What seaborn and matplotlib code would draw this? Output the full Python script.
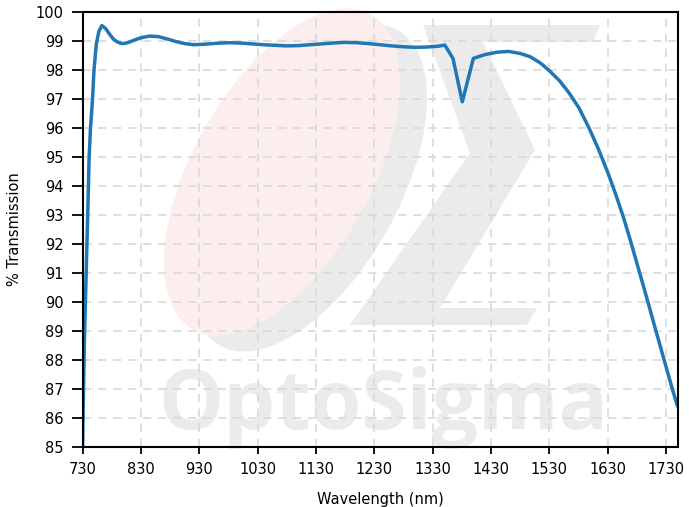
import numpy as np
import pandas as pd
import matplotlib
matplotlib.use("Agg")
import matplotlib.pyplot as plt
from matplotlib.patches import Ellipse, Polygon
from matplotlib.transforms import IdentityTransform
import seaborn as sns

# ---- data ----
wavelength = [730, 731, 733, 736, 739, 741, 743.5, 747, 749.5, 753.5, 758, 763, 769,
              776, 783, 790, 797, 803, 810, 820, 830, 845, 860, 875, 890, 905, 920,
              940, 960, 980, 1000, 1020, 1040, 1060, 1080, 1100, 1120, 1140, 1160,
              1180, 1200, 1220, 1240, 1260, 1280, 1300, 1320, 1340, 1351, 1365, 1381,
              1400, 1420, 1440, 1460, 1480, 1497, 1515, 1531, 1548, 1564, 1581, 1598,
              1615, 1631, 1645, 1657, 1669, 1684, 1699, 1713, 1727, 1741, 1750]
transmission = [85.0, 86.3, 88.6, 90.9, 93.2, 94.9, 96.0, 97.0, 98.0, 98.9, 99.35, 99.54,
                99.45, 99.25, 99.07, 98.97, 98.92, 98.93, 98.97, 99.05, 99.12, 99.18,
                99.16, 99.08, 98.99, 98.92, 98.88, 98.9, 98.93, 98.95, 98.94, 98.91, 98.88,
                98.86, 98.84, 98.85, 98.88, 98.91, 98.94, 98.96, 98.95, 98.92, 98.88, 98.84,
                98.81, 98.79, 98.8, 98.83, 98.87, 98.41, 96.91, 98.41, 98.54, 98.62, 98.65,
                98.58, 98.47, 98.25, 97.97, 97.63, 97.22, 96.7, 96.02, 95.25, 94.44, 93.66,
                92.94, 92.14, 91.08, 90.02, 89.0, 88.0, 87.0, 86.4]
x_ticks = list(range(730, 1731, 100))
y_ticks = list(range(85, 101, 1))
x_label = "Wavelength (nm)"
y_label = "% Transmission"
watermark_text = "OptoSigma"

df = pd.DataFrame({"Wavelength": wavelength, "Transmission": transmission})

sns.set_style("ticks")
plt.rcParams["font.family"] = ["DejaVu Sans"]
plt.rcParams["text.color"] = "black"
plt.rcParams["axes.labelcolor"] = "black"
plt.rcParams["xtick.color"] = "black"
plt.rcParams["ytick.color"] = "black"

W, H = 689, 507
fig = plt.figure(figsize=(W / 100, H / 100), dpi=100)
ax = fig.add_axes([82.6 / W, 1 - 446.7 / H, (677.5 - 82.6) / W, (446.7 - 12.3) / H])

# ---- watermark (display pixel coords, y measured from top) ----
def P(px, py):
    return (px, H - py)

tr = IdentityTransform()
shadow = Ellipse(P(309, 188), 2 * 181, 2 * 89, angle=60.5, facecolor="#ebebeb",
                 edgecolor="none", transform=tr, zorder=0.1)
ell = Ellipse(P(282, 172), 2 * 181, 2 * 89, angle=60.5, facecolor="#fdeeee",
              edgecolor="none", transform=tr, zorder=0.15)
sigma_pts = [P(423, 25), P(600, 25), P(593, 42), P(483, 42), P(535, 150), P(440, 308),
             P(537, 308), P(527, 325), P(350, 325), P(470, 153)]
sigma = Polygon(sigma_pts, closed=True, facecolor="#ebebeb", edgecolor="none",
                transform=tr, zorder=0.12)
for p in (shadow, sigma, ell):
    p.set_clip_on(False)
    ax.add_patch(p)
ax.text(158, H - 429, watermark_text, transform=tr, fontsize=59, fontweight="bold",
        family=["Open Sans", "DejaVu Sans"], color="#ebebeb", ha="left",
        va="baseline", zorder=0.2)

# ---- main curve ----
sns.lineplot(data=df, x="Wavelength", y="Transmission", ax=ax, color="#1f77b4",
             linewidth=2.5, estimator=None, sort=False, zorder=3)

ax.set_xlim(730, 1750)
ax.set_ylim(85, 100)
ax.set_xticks(x_ticks)
ax.set_yticks(y_ticks)
ax.set_xlabel(x_label, fontsize=10.5, color="black", labelpad=11)
ax.set_ylabel(y_label, fontsize=10.5, color="black", labelpad=10)
ax.tick_params(axis="both", labelsize=10.5, width=1.3, color="black",
               labelcolor="black", direction="out")
ax.tick_params(axis="x", length=5, pad=6)
ax.tick_params(axis="y", length=8, pad=5.5)
ax.set_axisbelow(True)
ax.grid(True, color="#d9d9d9", linestyle=(0, (5, 4)), linewidth=1.2)
for s in ax.spines.values():
    s.set_color("black")
    s.set_linewidth(1.5)
    s.set_zorder(4)

fig.savefig("out.png", dpi=100)
